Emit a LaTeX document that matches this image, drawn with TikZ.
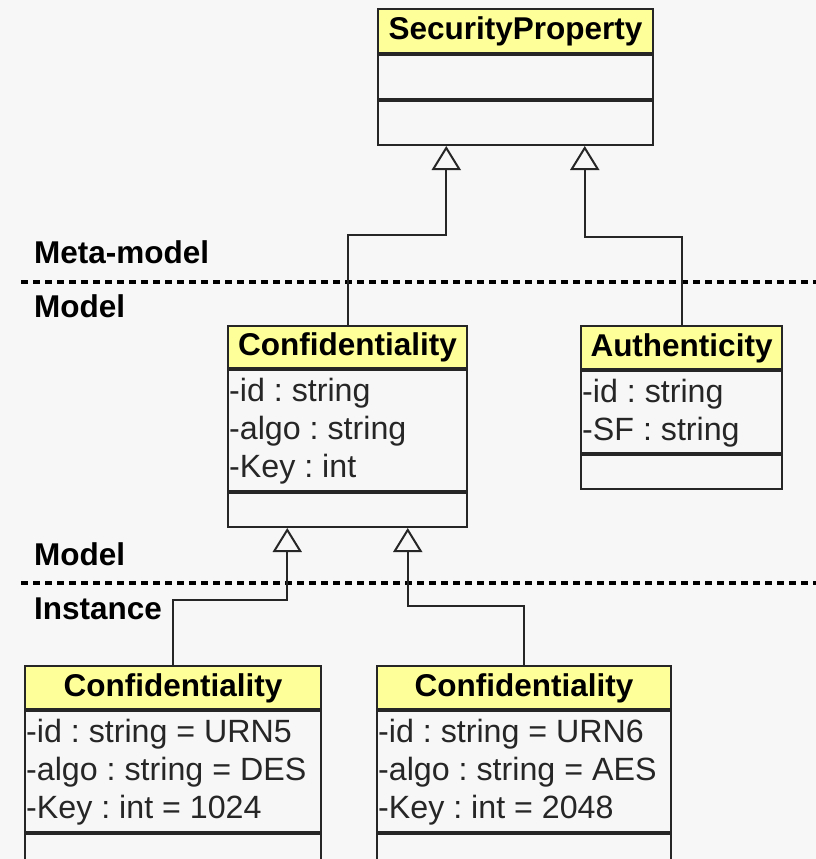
\documentclass[tikz,border=0pt]{standalone}
\usepackage{fontspec}
\setmainfont{Liberation Sans}
\usetikzlibrary{arrows.meta,calc}
\definecolor{bg}{HTML}{F7F7F7}
\definecolor{hdrfill}{HTML}{FFFF99}
\definecolor{ink}{HTML}{262626}
\frenchspacing

\begin{document}
\begin{tikzpicture}[x=1pt,y=-1pt,
  classhead/.style={draw=ink, line width=2pt, fill=hdrfill, inner sep=0pt,
    text height=23pt, text depth=6pt,
    font=\fontsize{31.5}{38}\selectfont\bfseries, text=black},
  compart/.style={draw=ink, line width=2pt, fill=bg, inner sep=0pt},
  attr/.style={anchor=base west, inner sep=0pt,
    font=\fontsize{32.2}{38}\selectfont, text=ink},
  level/.style={anchor=base west, inner sep=0pt,
    font=\fontsize{31.5}{38}\selectfont\bfseries, text=black},
  divider/.style={draw=black, line width=3.5pt, dash pattern=on 7pt off 5pt},
  gen/.style={draw=ink, line width=2pt,
    -{Triangle[length=24pt, width=29pt, fill=bg]}},
]
\fill[bg] (0,0) rectangle (816,859);
\useasboundingbox (0,0) rectangle (816,859);
\clip (0,0) rectangle (816,859);

% level separators and their labels
\draw[divider] (21,282) -- (816,282);
\draw[divider] (21,583) -- (816,583);
\node[level] (lbl-meta)  at (34,263) {Meta-model};
\node[level] (lbl-model) at (34,317) {Model};
\node[level] (lbl-model2) at (34,565) {Model};
\node[level] (lbl-inst)  at (34,619) {Instance};

% SecurityProperty
\node[classhead, minimum width=275pt, minimum height=44pt] (sp) at (515.5,31) {SecurityProperty};
\node[compart, minimum width=275pt, minimum height=44pt, anchor=north] (sp-attr) at (sp.south) {};
\node[compart, minimum width=275pt, minimum height=44pt, anchor=north] (sp-ops) at (sp-attr.south) {};

% Confidentiality (model)
\node[classhead, minimum width=239pt, minimum height=42pt] (conf) at (347.5,347) {Confidentiality};
\node[compart, minimum width=239pt, minimum height=121pt, anchor=north] (conf-attr) at (conf.south) {};
\node[compart, minimum width=239pt, minimum height=34pt, anchor=north] (conf-ops) at (conf-attr.south) {};
\node[attr] (conf-a1) at ($(conf-attr.north west)+(2,32)$) {-id : string};
\node[attr] (conf-a2) at ($(conf-attr.north west)+(2,70)$) {-algo : string};
\node[attr] (conf-a3) at ($(conf-attr.north west)+(2,108)$) {-Key : int};

% Authenticity
\node[classhead, minimum width=201pt, minimum height=43pt] (auth) at (681.5,347.5) {Authenticity};
\node[compart, minimum width=201pt, minimum height=82pt, anchor=north] (auth-attr) at (auth.south) {};
\node[compart, minimum width=201pt, minimum height=34pt, anchor=north] (auth-ops) at (auth-attr.south) {};
\node[attr] (auth-a1) at ($(auth-attr.north west)+(2,32)$) {-id : string};
\node[attr] (auth-a2) at ($(auth-attr.north west)+(2,70)$) {-SF : string};

% Confidentiality instance URN5
\node[classhead, minimum width=296pt, minimum height=43pt] (c5) at (173,687.5) {Confidentiality};
\node[compart, minimum width=296pt, minimum height=121pt, anchor=north] (c5-attr) at (c5.south) {};
\node[compart, minimum width=296pt, minimum height=70pt, anchor=north] (c5-ops) at (c5-attr.south) {};
\node[attr] (c5-a1) at ($(c5-attr.north west)+(2,32)$) {-id : string = URN5};
\node[attr] (c5-a2) at ($(c5-attr.north west)+(2,70)$) {-algo : string = DES};
\node[attr] (c5-a3) at ($(c5-attr.north west)+(2,108)$) {-Key : int = 1024};

% Confidentiality instance URN6
\node[classhead, minimum width=294pt, minimum height=43pt] (c6) at (524,687.5) {Confidentiality};
\node[compart, minimum width=294pt, minimum height=121pt, anchor=north] (c6-attr) at (c6.south) {};
\node[compart, minimum width=294pt, minimum height=70pt, anchor=north] (c6-ops) at (c6-attr.south) {};
\node[attr] (c6-a1) at ($(c6-attr.north west)+(2,32)$) {-id : string = URN6};
\node[attr] (c6-a2) at ($(c6-attr.north west)+(2,70)$) {-algo : string = AES};
\node[attr] (c6-a3) at ($(c6-attr.north west)+(2,108)$) {-Key : int = 2048};

% generalisations
\draw[gen] (conf.north) -- ++(0,-90) -| ($(sp-ops.south west)!0.25!(sp-ops.south east)$);
\draw[gen] (auth.north) -- ++(0,-88) -| ($(sp-ops.south west)!0.75!(sp-ops.south east)$);
\draw[gen] (c5.north) -- ++(0,-65) -| ($(conf-ops.south west)!0.25!(conf-ops.south east)$);
\draw[gen] (c6.north) -- ++(0,-59) -| ($(conf-ops.south west)!0.75!(conf-ops.south east)$);
\end{tikzpicture}
\end{document}
